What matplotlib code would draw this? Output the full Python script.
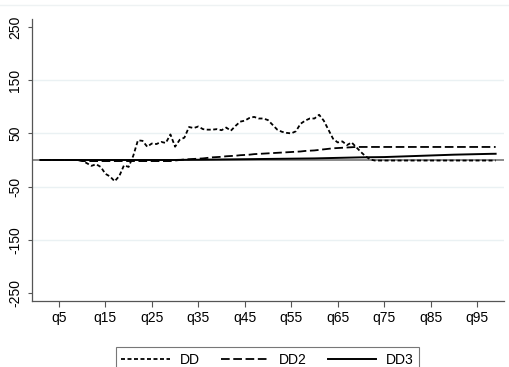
import numpy as np
import matplotlib
matplotlib.use("Agg")
import matplotlib.pyplot as plt
from matplotlib.lines import Line2D

plt.rcParams['font.family'] = ['Liberation Sans', 'DejaVu Sans']

# quantile positions q1..q99
quantiles = np.arange(1, 100)
xtick_pos = [5, 15, 25, 35, 45, 55, 65, 75, 85, 95]
xtick_labels = ['q5', 'q15', 'q25', 'q35', 'q45', 'q55', 'q65', 'q75', 'q85', 'q95']
ytick_pos = [-250, -150, -50, 50, 150, 250]
grid_vals = [-150, -50, 50, 150]

dd = [0, 0, 0, 0, 0, 0, 0, 0, 0, -1,
      -6, -11, -8, -13, -26, -31, -40, -30, -10, -13,
      8, 37, 36, 25, 31, 30, 34, 32, 48, 25,
      38, 42, 62, 60, 63, 58, 57, 57, 58, 56,
      61, 55, 64, 72, 74, 79, 81, 78, 78, 75,
      66, 57, 53, 51, 50, 54, 68, 74, 78, 78,
      85, 74, 57, 40, 33, 35, 28, 33, 24, 15,
      7, 1, -1, -1, -1, -1, -1, -1, -1, -1,
      -1, -1, -1, -1, -1, -1, -1, -1, -1, -1,
      -1, -1, -1, -1, -1, -1, -1, -1, -1]

dd2 = [0, 0, 0, 0, 0, 0, 0, 0, 0, -2,
       -2, -2, -2, -2, -2, -2, -2, -2, -2, -2,
       -2, -2, -2, -2, -2, -2, -2, -2, -2, -1,
       0, 1, 1.5, 2, 2.5, 3, 4, 5, 5.5, 6,
       7, 7.5, 8, 9, 9.5, 10, 11, 11.5, 12, 12.5,
       13, 13.5, 14, 14.5, 15, 15.5, 16, 17, 17.5, 18,
       19, 20, 21, 22, 22.5, 23, 23.5, 24, 24.5, 24.5,
       24.5, 24.5, 24.5, 24.5, 24.5, 24.5, 24.5, 24.5, 24.5, 24.5,
       24.5, 24.5, 24.5, 24.5, 24.5, 24.5, 24.5, 24.5, 24.5, 24.5,
       24.5, 24.5, 24.5, 24.5, 24.5, 24.5, 24.5, 24.5, 24.5]

dd3 = [0, 0, 0, 0, 0, 0, 0, 0, 0, 0,
       0, 0, 0, 0, 0, 0, 0, 0, 0, 0,
       0, 0, 0, 0, 0, 0, 0, 0, 0, 0,
       0.2, 0.3, 0.4, 0.5, 0.5, 0.6, 0.7, 0.8, 0.9, 1,
       1.1, 1.2, 1.3, 1.4, 1.5, 1.6, 1.7, 1.8, 1.9, 2,
       2.1, 2.2, 2.3, 2.4, 2.5, 2.6, 2.7, 2.8, 2.9, 3,
       3.2, 3.4, 3.6, 3.8, 4, 4.2, 4.4, 4.6, 4.8, 5,
       5.1, 5.2, 5.3, 5.4, 5.5, 5.8, 6.1, 6.4, 6.7, 7,
       7.3, 7.6, 7.9, 8.2, 8.5, 8.8, 9.1, 9.4, 9.7, 10,
       10.2, 10.4, 10.6, 10.8, 11, 11.2, 11.4, 11.6, 11.7]

fig = plt.figure(figsize=(5.1, 3.67), dpi=100)
ax = fig.add_axes([32 / 510, 1 - 301 / 367, 472 / 510, 282 / 367])

for g in grid_vals:
    ax.axhline(g, color='#eaf1f3', lw=1.0, zorder=0)
ax.axhline(0, color='#777777', lw=1.2, zorder=1)

ax.plot(quantiles, dd, color='black', lw=1.3, dashes=(2.2, 1.4), label='DD', zorder=3)
ax.plot(quantiles, dd2, color='black', lw=1.3, dashes=(4.8, 2.0), label='DD2', zorder=3)
ax.plot(quantiles, dd3, color='black', lw=1.4, label='DD3', zorder=3)

ax.set_xlim(-0.8, 100.8)
ax.set_ylim(-265, 265)
ax.set_xticks(xtick_pos)
ax.set_xticklabels(xtick_labels, fontsize=10)
ax.set_yticks(ytick_pos)
ax.set_yticklabels([str(v) for v in ytick_pos], fontsize=10, rotation=90, va='center')

for s in ['top', 'right']:
    ax.spines[s].set_visible(False)
for s in ['left', 'bottom']:
    ax.spines[s].set_color('#555555')
    ax.spines[s].set_linewidth(0.9)
ax.tick_params(axis='x', length=4, width=0.8, color='#555555', pad=3)
ax.tick_params(axis='y', length=3, width=0.8, color='#555555', pad=4)

# faint region border at the top
fig.add_artist(Line2D([0, 1], [1 - 5 / 367, 1 - 5 / 367], transform=fig.transFigure,
                      color='#eef2f3', lw=1.0))

fig.legend(loc='upper center', bbox_to_anchor=(267.5 / 510, 1 - 347 / 367), ncol=3,
           fontsize=10, frameon=True, fancybox=False, edgecolor='#555555',
           borderaxespad=0, handlelength=3.5, handletextpad=0.7, columnspacing=1.5,
           borderpad=0.4)
fig.legends[0].get_frame().set_linewidth(0.8)

fig.savefig('out.png', dpi=100)
